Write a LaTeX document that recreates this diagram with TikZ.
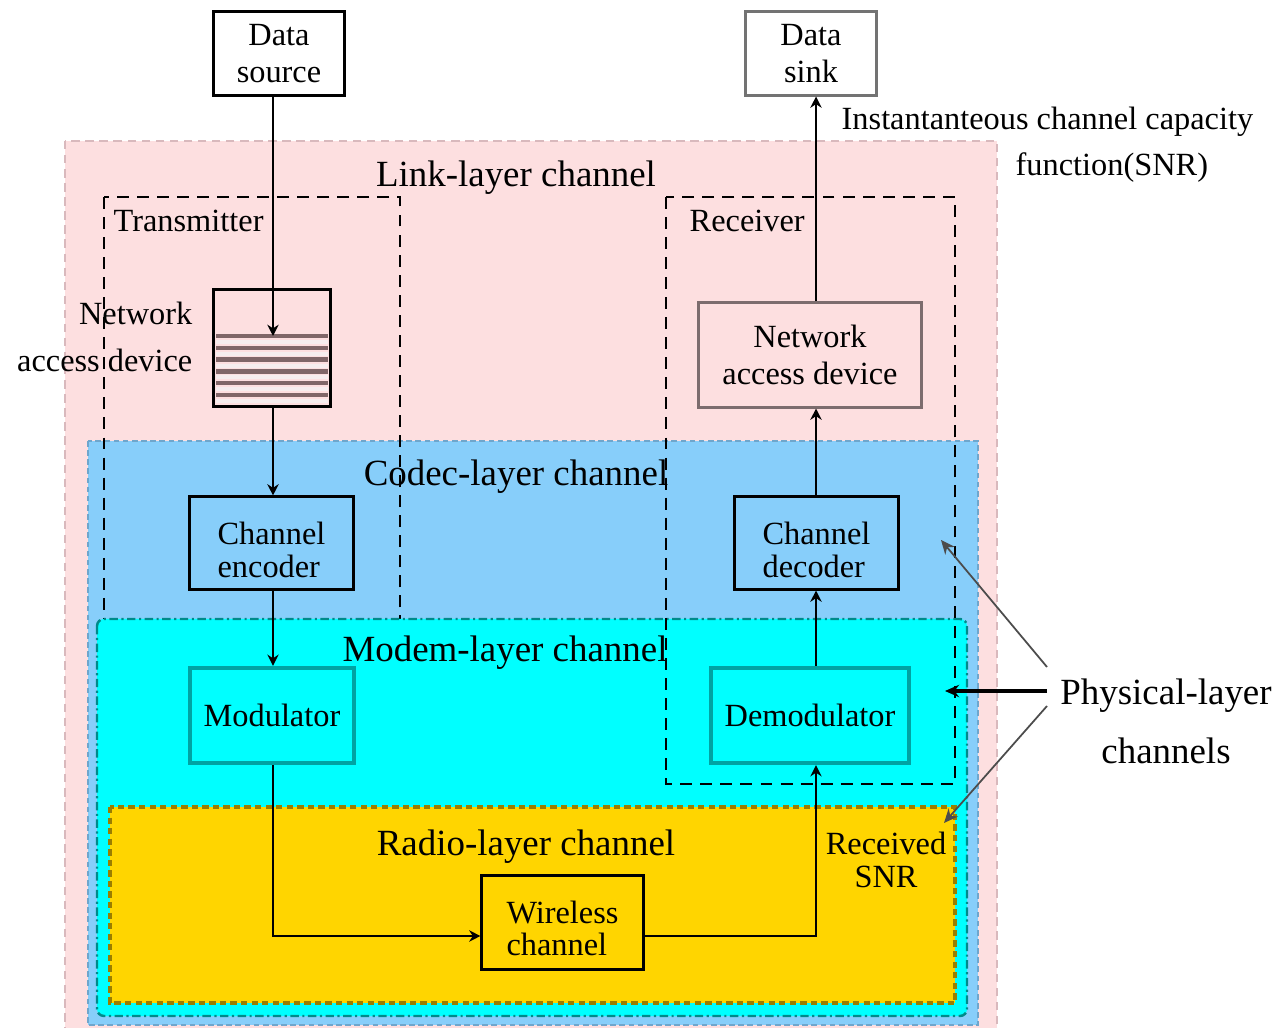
\documentclass[tikz,border=0pt]{standalone}
\usepackage{fontspec}
\setmainfont{Liberation Serif}
\usetikzlibrary{arrows.meta}

\definecolor{linkpink}{HTML}{FDDFE0}
\definecolor{linkedge}{HTML}{D9B9BD}
\definecolor{codecblue}{HTML}{87CEFA}
\definecolor{codecedge}{HTML}{6FA6CC}
\definecolor{modemcyan}{HTML}{00FFFF}
\definecolor{modemedge}{HTML}{008A8A}
\definecolor{radiogold}{HTML}{FFD500}
\definecolor{radioedge}{HTML}{9A7E00}
\definecolor{queuedark}{HTML}{806668}
\definecolor{queuepale}{HTML}{F6EDEE}
\definecolor{devedge}{HTML}{7C6C6E}
\definecolor{modedge}{HTML}{00A3A3}

\newcommand\boxfont{\fontsize{9.2}{10.3}\selectfont}
\newcommand\tightfont{\fontsize{9.2}{9.4}\selectfont}
\newcommand\titlefont{\fontsize{10.5}{12}\selectfont}
% left-aligned two-line block label, set a little below the box centre
\newcommand\lowstack[1]{\raisebox{-0.11cm}[\height][\depth]{\begin{tabular}{@{}l@{}}#1\end{tabular}}}

\begin{document}
\begin{tikzpicture}[x=0.01cm,y=-0.01cm,
  blockbox/.style={draw=black,line width=0.85pt,inner sep=0pt,align=center,font=\boxfont},
  stackbox/.style={draw=black,line width=0.85pt,inner sep=0pt,font=\tightfont},
  conn/.style={line width=0.75pt,-{Stealth[length=3.2pt,width=3.2pt]}},
  pointer/.style={line width=0.5pt,draw=black!70,-{Stealth[length=4pt,width=3.5pt]}},
  unitbox/.style={draw=black,line width=0.8pt,dash pattern=on 3.4pt off 2.3pt},
  layertitle/.style={font=\titlefont,inner sep=0pt},
  plainlabel/.style={font=\boxfont,inner sep=0pt}]

\useasboundingbox (0,0) rectangle (1279,1028);

% layered channel regions
\draw[fill=linkpink,draw=linkedge,line width=0.8pt,dash pattern=on 2.4pt off 1.6pt]
  (65,141) rectangle (997,1045);
\node[layertitle] (linklbl) at (516,178) {Link-layer channel};

\draw[fill=codecblue,draw=codecedge,line width=0.6pt,dash pattern=on 1.6pt off 1pt]
  (88,441) rectangle (978,1025);
\node[layertitle] (codeclbl) at (516,477) {Codec-layer channel};

% transmitter unit (lower part hidden by the modem layer)
\draw[unitbox] (104,197) rectangle (400,625);
\node[plainlabel,anchor=west] (txlbl) at (113,221) {Transmitter};

\draw[fill=modemcyan,draw=modemedge,line width=0.7pt,rounded corners=2pt,
  dash pattern=on 2.4pt off 1pt on 0.6pt off 1pt]
  (97,619) rectangle (967,1016);
\node[layertitle] (modemlbl) at (505,653) {Modem-layer channel};

\draw[fill=radiogold,draw=radioedge,line width=1pt,dash pattern=on 1.8pt off 1.2pt]
  (110,807) rectangle (955,1003);
\node[layertitle] (radiolbl) at (526,847) {Radio-layer channel};

% receiver unit
\draw[unitbox] (666,197) rectangle (955,784);
\node[plainlabel,anchor=west] (rxlbl) at (689,221) {Receiver};

% blocks
\node[blockbox,fill=white,minimum width=1.30cm,minimum height=0.83cm] (src) at (279,53.5) {Data\\source};
\node[blockbox,fill=white,draw=black!55,minimum width=1.30cm,minimum height=0.83cm] (sink) at (811,53.5) {Data\\sink};

\node[blockbox,minimum width=1.16cm,minimum height=1.16cm] (queue) at (272,348) {};
\foreach \k in {0,...,5}{
  \draw[queuepale,line width=1.1pt] (216,342+11.8*\k) -- (328,342+11.8*\k);
  \draw[queuedark,line width=1.2pt] (216,336+11.8*\k) -- (328,336+11.8*\k);
}
\node[plainlabel,align=right,anchor=east,font=\fontsize{9.2}{13.4}\selectfont] (txnad) at (193,337) {Network\\access device};

\node[blockbox,draw=devedge,minimum width=2.22cm,minimum height=1.04cm] (nadr) at (810,355) {Network\\access device};

\node[stackbox,minimum width=1.63cm,minimum height=0.92cm] (enc) at (271.5,543) {\lowstack{Channel\\encoder}};
\node[stackbox,minimum width=1.63cm,minimum height=0.92cm] (dec) at (816.5,543) {\lowstack{Channel\\decoder}};

\node[blockbox,draw=modedge,line width=1.2pt,minimum width=1.64cm,minimum height=0.95cm] (mod) at (272,715.5) {Modulator};
\node[blockbox,draw=modedge,line width=1.2pt,minimum width=1.98cm,minimum height=0.95cm] (demod) at (810,715.5) {Demodulator};

\node[stackbox,minimum width=1.61cm,minimum height=0.93cm,font=\fontsize{9.2}{9.1}\selectfont] (wire) at (562.5,922.5) {\lowstack{Wireless\\channel}};

\node[plainlabel,align=center,font=\tightfont] (snr) at (886,860) {Received\\SNR};

% column and row guides for the connectors
\coordinate (colL) at (273,0);
\coordinate (colR) at (816,0);
\coordinate (rowW) at (0,936);
\coordinate (qtop) at (273,336);

% signal path
\draw[conn] (src.south -| colL) -- (qtop);
\draw[conn] (queue.south -| colL) -- (enc.north -| colL);
\draw[conn] (enc.south -| colL) -- (mod.north -| colL);
\draw[conn] (mod.south -| colL) |- (wire.west |- rowW);
\draw[conn] (wire.east |- rowW) -| (demod.south -| colR);
\draw[conn] (demod.north -| colR) -- (dec.south -| colR);
\draw[conn] (dec.north -| colR) -- (nadr.south -| colR);
\draw[conn] (nadr.north -| colR) -- (sink.south -| colR);

% capacity annotation
\node[plainlabel,anchor=west] (capA) at (841,122) {Instantanteous channel capacity};
\node[plainlabel,anchor=west] (capB) at (1015,168) {function(SNR)};

% physical-layer pointers
\node[layertitle,align=center,font=\fontsize{10.5}{16.8}\selectfont] (phys) at (1166,721) {Physical-layer\\channels};
\coordinate (pA) at (1047,667);
\coordinate (pB) at (1047,691);
\coordinate (pC) at (1047,706);
\coordinate (tA) at (941,540);
\coordinate (tB) at (945,691);
\coordinate (tC) at (944,823);
\draw[pointer] (pA) -- (tA);
\draw[pointer,draw=black,line width=1.1pt] (pB) -- (tB);
\draw[pointer] (pC) -- (tC);

\end{tikzpicture}
\end{document}
